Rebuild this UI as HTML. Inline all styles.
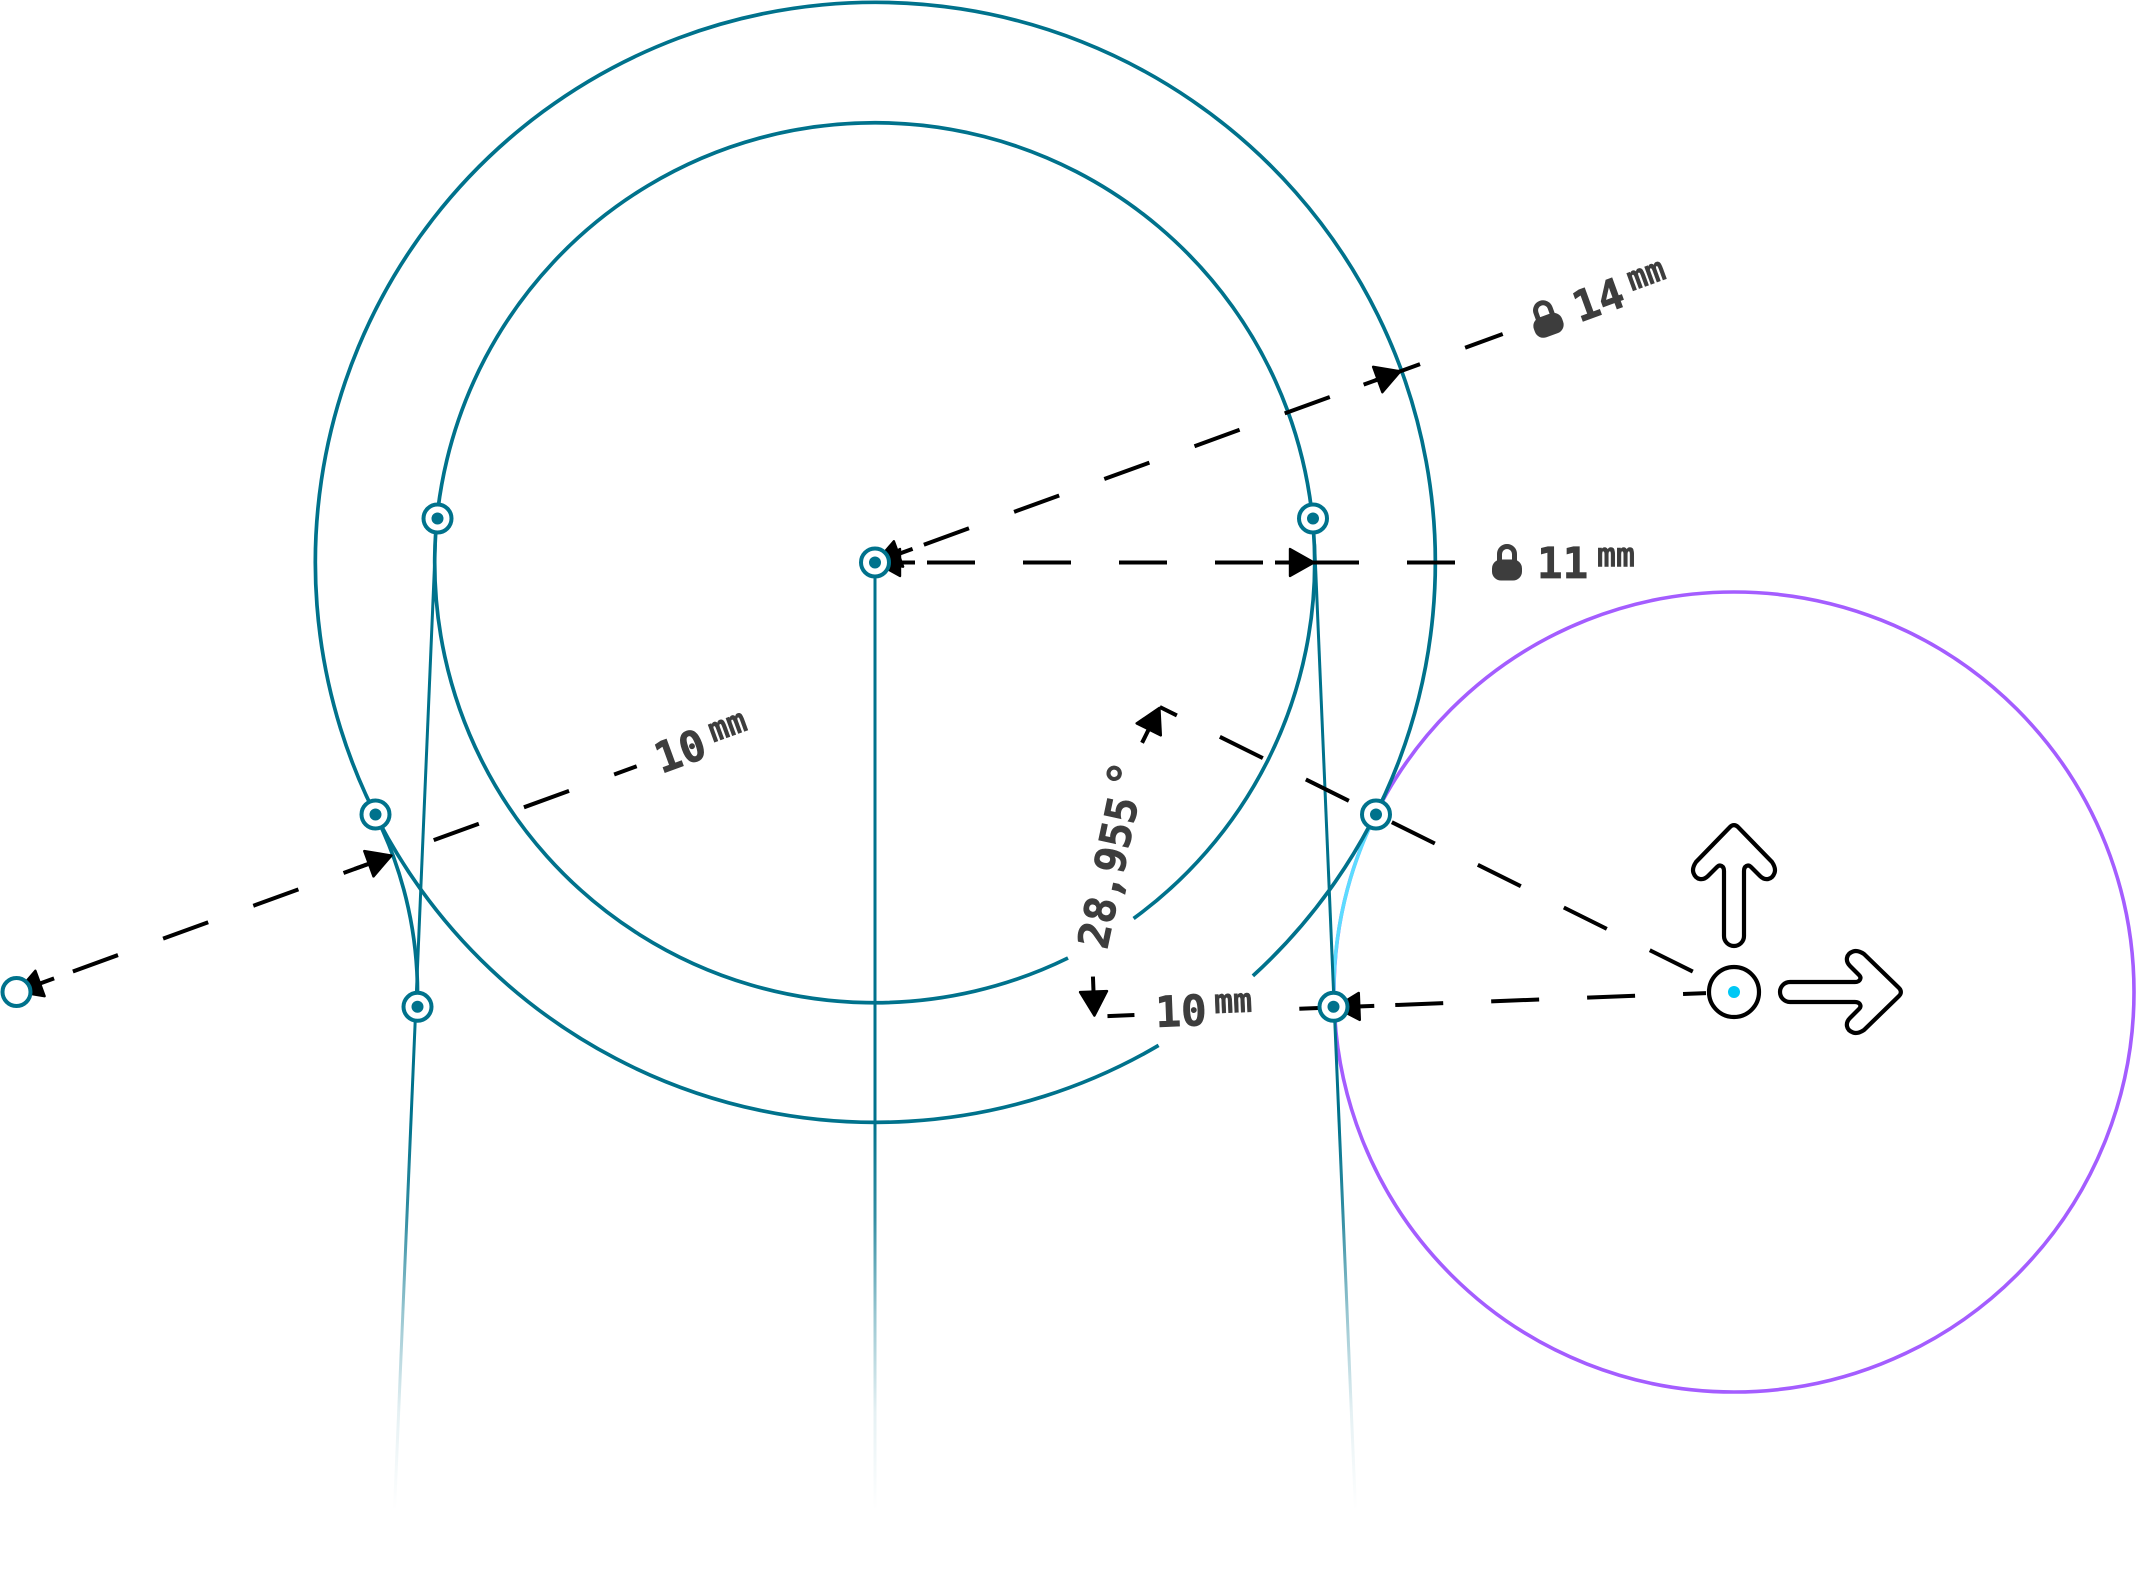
<!DOCTYPE html>
<html>
<head>
<meta charset="utf-8">
<style>
html,body{margin:0;padding:0;background:#fff}
svg{display:block}
text{font-family:"DejaVu Sans Mono","Liberation Mono",monospace;font-weight:bold;fill:#3d3d3d;stroke:#3d3d3d;stroke-width:.7px}
.big{font-size:42.5px}
.mm{font-size:34px;stroke-width:.5px}
</style>
</head>
<body>
<svg xmlns="http://www.w3.org/2000/svg" width="2137" height="1577" viewBox="0 0 2137 1577">
<defs>
<linearGradient id="fade" gradientUnits="userSpaceOnUse" x1="0" y1="1120" x2="0" y2="1510">
<stop offset="0" stop-color="#00728c"/>
<stop offset="0.25" stop-color="#00728c" stop-opacity=".8"/>
<stop offset="0.5" stop-color="#00728c" stop-opacity=".4"/>
<stop offset="0.75" stop-color="#00728c" stop-opacity=".1"/>
<stop offset="1" stop-color="#00728c" stop-opacity="0"/>
</linearGradient>
<g id="arrow">
<path d="M-40 0H-10" stroke="#000" stroke-width="4" fill="none"/>
<path d="M-1 0L-25 -13.5V13.5Z" fill="#000" stroke="#000" stroke-width="2.4" stroke-linejoin="round"/>
</g>
<g id="lock">
<path d="M-7.5 0V-8.5A7.5 7.5 0 0 1 7.5 -8.5V0" fill="none" stroke="#3d3d3d" stroke-width="5"/>
<rect x="-15" y="-3" width="30" height="21" rx="9" fill="#3d3d3d"/>
</g>
<g id="pt">
<circle r="14" fill="#fff" stroke="#00728c" stroke-width="4"/>
<circle r="6" fill="#00728c"/>
</g>
</defs>

<!-- purple circle and cyan arc -->
<circle cx="1734" cy="992" r="400" fill="none" stroke="#a45dff" stroke-width="3.6"/>
<path d="M1376 814A400 400 0 0 0 1334 1007" fill="none" stroke="#5cdcff" stroke-width="3.6"/>

<!-- teal geometry -->
<g fill="none" stroke="#00728c" stroke-width="3.7">
<path d="M1252.9 975.9A560 560 0 1 0 1158.6 1045.4"/>
<path d="M1133.6 918.5A440 440 0 1 0 1068 958"/>
<path d="M375 814A400 400 0 0 1 417.3 1007"/>
</g>
<g fill="none" stroke="url(#fade)" stroke-width="3">
<path d="M1314.6 544L1355.8 1517"/>
<path d="M435.4 544L394.2 1517"/>
<path d="M875 562V1517"/>
</g>

<!-- horizontal 11mm dimension -->
<g transform="translate(875,562.5)">
<path d="M52 0H100M148 0H196M244 0H292M340 0H388M436 0H484M532 0H580" stroke="#000" stroke-width="4" fill="none"/>
<use href="#arrow" transform="rotate(180)"/>
<use href="#arrow" transform="translate(440,0)"/>
<use href="#lock" x="632"/>
<text class="big" x="662" y="15.5">11</text>
<text class="mm" x="722" y="4" textLength="38" lengthAdjust="spacingAndGlyphs">mm</text>
</g>

<!-- 14mm dimension -->
<g transform="translate(875,562.5) rotate(-20)">
<path d="M52 0H100M148 0H196M244 0H292M340 0H388M436 0H484M532 0H580M628 0H668" stroke="#000" stroke-width="4" fill="none"/>
<use href="#arrow" transform="rotate(180)"/>
<use href="#arrow" transform="translate(560,0)"/>
<use href="#lock" x="714"/>
<text class="big" x="744" y="15.5">14</text>
<text class="mm" x="804" y="4" textLength="38" lengthAdjust="spacingAndGlyphs">mm</text>
</g>

<!-- left 10mm dimension -->
<g transform="translate(16.5,992) rotate(-20)">
<path d="M60 0H108M156 0H204M252 0H300M348 0H396M444 0H492M540 0H588M636 0H660" stroke="#000" stroke-width="4" fill="none"/>
<use href="#arrow" transform="rotate(180)"/>
<use href="#arrow" transform="translate(400,0)"/>
<text class="big" x="680.5" y="15.5">10</text>
<text class="mm" x="740" y="4" textLength="38" lengthAdjust="spacingAndGlyphs">mm</text>
</g>

<!-- lower 10mm dimension -->
<g transform="translate(1734,992) rotate(177.8)">
<path d="M28 0H51M99 0H147M195 0H243M291 0H339M387 0H435M600 0H627" stroke="#000" stroke-width="4" fill="none"/>
<use href="#arrow" transform="translate(400,0)"/>
<use href="#arrow" transform="translate(640,0) rotate(-90)"/>
</g>
<g transform="translate(1156,1027) rotate(-2.2)">
<text class="big" x="0" y="0">10</text>
<text class="mm" x="59" y="-11.5" textLength="38" lengthAdjust="spacingAndGlyphs">mm</text>
</g>

<!-- angle dimension -->
<g transform="translate(1734,992) rotate(206.4)">
<path d="M46 0H94M142 0H190M238 0H286M334 0H382M430 0H478M526 0H574M622 0H641" stroke="#000" stroke-width="4" fill="none"/>
<use href="#arrow" transform="translate(641,0) rotate(90)"/>
</g>
<g transform="translate(1108,873) rotate(-78)">
<text class="big" x="-76" y="15">28,955</text>
<text x="85" y="12" style="font-size:46px;stroke-width:.4px">°</text>
</g>

<!-- points -->
<use href="#pt" x="875" y="562.5"/>
<use href="#pt" x="437.5" y="518.5"/>
<use href="#pt" x="1313" y="518.5"/>
<use href="#pt" x="375.5" y="814.5"/>
<use href="#pt" x="1376" y="814.5"/>
<use href="#pt" x="417.5" y="1006.8"/>
<use href="#pt" x="1333.5" y="1006.8"/>
<circle cx="16.5" cy="992" r="14" fill="#fff" stroke="#00728c" stroke-width="4"/>

<!-- handle -->
<circle cx="1734" cy="992" r="25" fill="#fff" stroke="#000" stroke-width="4.2"/>
<circle cx="1734" cy="992" r="6" fill="#00c8f5"/>
<g id="up">
<path d="M1724 936V871C1724 866 1720 864 1717 867L1708 876C1703 881 1696 880 1693.5 873C1692 869 1694 865 1696 862L1730 827C1732.5 824.5 1735.5 824.5 1738 827L1772 862C1774 865 1776 869 1774.5 873C1772 880 1765 881 1760 876L1751 867C1748 864 1744 866 1744 871V936A10 10 0 0 1 1724 936Z" fill="#fff" stroke="#000" stroke-width="4.2" stroke-linejoin="round"/>
</g>
<use href="#up" transform="rotate(90 1734 992)"/>
</svg>
</body>
</html>
